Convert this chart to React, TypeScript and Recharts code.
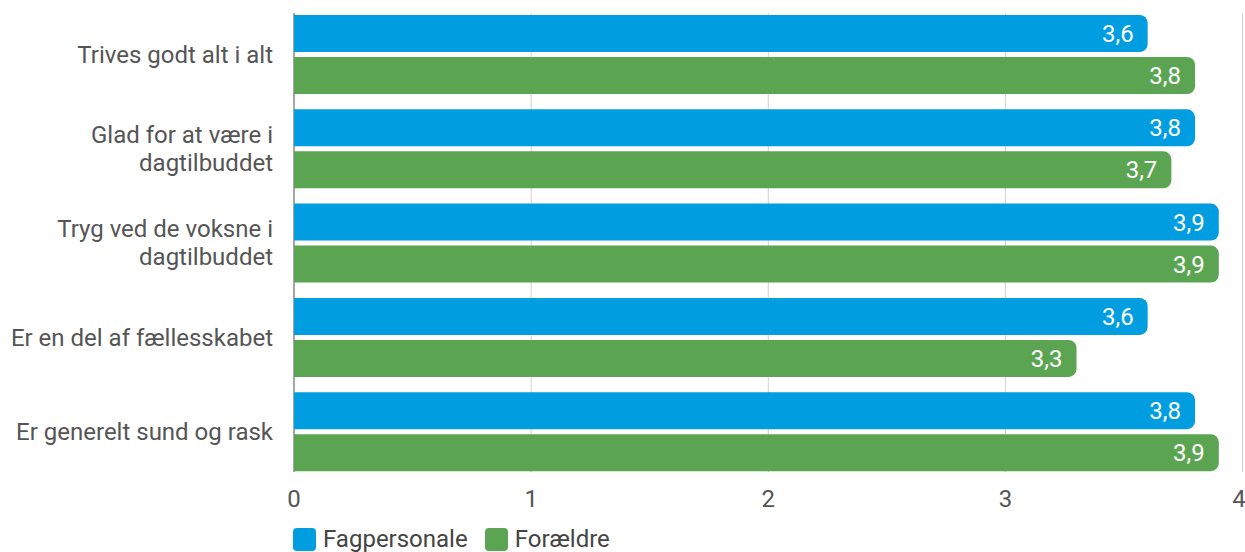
import React from "react";
import {
  BarChart,
  Bar,
  XAxis,
  YAxis,
  CartesianGrid,
  Legend,
  LabelList,
} from "recharts";

const categories = [
  "Trives godt alt i alt",
  "Glad for at være i\ndagtilbuddet",
  "Tryg ved de voksne i\ndagtilbuddet",
  "Er en del af fællesskabet",
  "Er generelt sund og rask",
];
const fagpersonale = [3.6, 3.8, 3.9, 3.6, 3.8];
const foraeldre = [3.8, 3.7, 3.9, 3.3, 3.9];
const xTicks = [0, 1, 2, 3, 4];
const seriesNames = ["Fagpersonale", "Forældre"];
const seriesColors = ["#009EE0", "#5BA552"];

const data = categories.map((c, i) => ({
  name: c,
  fag: fagpersonale[i],
  for: foraeldre[i],
}));

const FONT = "Roboto, 'Noto Sans', sans-serif";
const TEXT = "#555555";
const FS = 24;

const fmt = (v: any) => Number(v).toFixed(1).replace(".", ",");

const YTick = (props: any) => {
  const { x, y, payload } = props;
  const lines = String(payload.value).split("\n");
  const lh = 28;
  const start = -((lines.length - 1) * lh) / 2;
  return (
    <g>
      {lines.map((l: string, i: number) => (
        <text
          key={i}
          x={x}
          y={y + start + i * lh}
          dy="0.355em"
          textAnchor="end"
          fill={TEXT}
          fontSize={FS}
          fontFamily={FONT}
        >
          {l}
        </text>
      ))}
    </g>
  );
};

const GridLine = (props: any) => {
  const { x1, x2, y1, y2, index } = props;
  const first = index === 0;
  return (
    <line
      x1={x1}
      x2={x2}
      y1={y1 + 6}
      y2={y2 - 6.5}
      stroke={first ? "#A6A6A6" : "#D0D0D0"}
      strokeWidth={first ? 2 : 1}
    />
  );
};

const LegendContent = () => (
  <div style={{ display: "flex", alignItems: "center", fontFamily: FONT }}>
    {seriesNames.map((n, i) => (
      <div
        key={n}
        style={{ display: "flex", alignItems: "center", marginRight: 17 }}
      >
        <div
          style={{
            width: 23,
            height: 23,
            borderRadius: 4,
            background: seriesColors[i],
            marginRight: 7,
          }}
        />
        <span style={{ fontSize: FS, color: "#444", lineHeight: "26px" }}>{n}</span>
      </div>
    ))}
  </div>
);

export default function App() {
  return (
    <div style={{ position: "absolute", left: 0, top: 0, background: "#fff" }}>
      <BarChart
        width={1245}
        height={552}
        data={data}
        layout="vertical"
        margin={{ top: 7, right: 2.5, left: 0, bottom: 0 }}
        barCategoryGap={8}
        barGap={5}
      >
        <CartesianGrid horizontal={false} vertical={GridLine as any} />
        <XAxis
          type="number"
          domain={[0, 4]}
          ticks={xTicks}
          axisLine={false}
          tickLine={false}
          tickMargin={5.5}
          height={47.5}
          tick={{ fill: TEXT, fontSize: FS, fontFamily: FONT }}
        />
        <YAxis
          type="category"
          dataKey="name"
          width={294}
          axisLine={false}
          tickLine={false}
          tickMargin={15}
          tick={<YTick />}
          interval={0}
        />
        <Legend
          verticalAlign="bottom"
          align="left"
          height={26}
          wrapperStyle={{ left: 293, bottom: 0 }}
          content={LegendContent as any}
        />
        <Bar
          dataKey="fag"
          name={seriesNames[0]}
          fill={seriesColors[0]}
          radius={[0, 8, 8, 0]}
          isAnimationActive={false}
        >
          <LabelList
            dataKey="fag"
            position="insideRight"
            offset={14}
            formatter={fmt}
            fill="#fff"
            fontSize={FS}
            fontFamily={FONT}
          />
        </Bar>
        <Bar
          dataKey="for"
          name={seriesNames[1]}
          fill={seriesColors[1]}
          radius={[0, 8, 8, 0]}
          isAnimationActive={false}
        >
          <LabelList
            dataKey="for"
            position="insideRight"
            offset={14}
            formatter={fmt}
            fill="#fff"
            fontSize={FS}
            fontFamily={FONT}
          />
        </Bar>
      </BarChart>
    </div>
  );
}
